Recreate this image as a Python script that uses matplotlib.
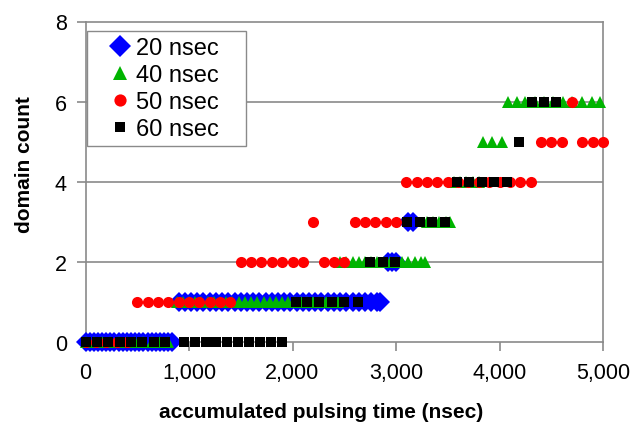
import matplotlib
matplotlib.use('Agg')
import matplotlib.pyplot as plt
from matplotlib.ticker import FuncFormatter

plt.rcParams['font.family'] = ['Liberation Sans', 'DejaVu Sans']

# 20 nsec pulses (blue diamonds)
x20 = [0, 40, 80, 120, 160, 200, 240, 280, 320, 360, 400, 440, 480, 520, 560, 600, 640, 680, 720, 760, 800, 840,
       900, 960, 1020, 1080, 1140, 1200, 1260, 1320, 1380, 1440, 1500, 1560, 1620, 1680, 1740, 1800, 1860,
       1920, 1980, 2040, 2100, 2160, 2220, 2280, 2340, 2400, 2460, 2520, 2580, 2640, 2700, 2760, 2820, 2850,
       2920, 2960, 3000,
       3120, 3160]
y20 = [0] * 22 + [1] * 34 + [2] * 3 + [3] * 2

# 40 nsec pulses (green triangles)
x40 = [0, 80, 160, 240, 320, 400, 480, 560, 640, 720, 800,
       880, 940, 1000, 1060, 1120, 1180, 1240, 1300, 1360, 1420, 1480, 1540, 1600, 1660, 1720, 1780,
       1840, 1900, 1960, 2020, 2080, 2140, 2200, 2260, 2320, 2380, 2440,
       2460, 2520, 2580, 2640, 2700, 2760, 2820, 2880, 2940, 3000, 3060, 3120, 3180, 3240, 3280,
       3300, 3360, 3420, 3480, 3520,
       3560, 3620, 3680, 3740, 3800,
       3840, 3930, 4020,
       4080, 4170, 4250, 4340, 4430, 4520, 4610, 4700, 4800, 4890, 4970]
y40 = [0] * 11 + [1] * 27 + [2] * 15 + [3] * 5 + [4] * 5 + [5] * 3 + [6] * 11

# 50 nsec pulses (red circles)
x50 = [0, 100, 200, 300, 400,
       500, 600, 700, 800, 900, 1000, 1100, 1200, 1300, 1400,
       1500, 1600, 1700, 1800, 1900, 2000, 2100, 2300, 2400, 2500,
       2200, 2600, 2700, 2800, 2900, 3000,
       3100, 3200, 3300, 3400, 3500, 3600, 3700, 3800, 3900, 4000, 4100, 4200, 4300,
       4400, 4500, 4600, 4800, 4900, 5000,
       4700]
y50 = [0] * 5 + [1] * 10 + [2] * 10 + [3] * 6 + [4] * 13 + [5] * 6 + [6] * 1

# 60 nsec pulses (black squares)
x60 = [0, 110, 220, 330, 440, 550, 660, 770, 950, 1055, 1160, 1265, 1370, 1475, 1580, 1685, 1790, 1895,
       2030, 2140, 2260, 2380, 2500, 2630,
       2750, 2870, 2990,
       3110, 3230, 3350, 3470,
       3590, 3710, 3830, 3950, 4070,
       4190,
       4310, 4430, 4550]
y60 = [0] * 18 + [1] * 6 + [2] * 3 + [3] * 4 + [4] * 5 + [5] * 1 + [6] * 3

fig = plt.figure(figsize=(6.34, 4.31), dpi=100)
ax = fig.add_axes([85.5 / 634, 1 - 343 / 431, 517.5 / 634, 320.5 / 431])

grey = '#8a8a8a'
for yy in [2, 4, 6]:
    ax.axhline(yy, color=grey, lw=1.2, zorder=1)

ax.plot(x20, y20, ls='none', marker='D', ms=10.3, color='#0000ff', mew=0, clip_on=False, zorder=3, label='20 nsec')
ax.plot(x40, y40, ls='none', marker='^', ms=8.8, color='#00b400', mew=0, clip_on=False, zorder=4, label='40 nsec')
ax.plot(x50, y50, ls='none', marker='o', ms=8, color='#ff0000', mew=0, clip_on=False, zorder=5, label='50 nsec')
ax.plot(x60, y60, ls='none', marker='s', ms=7, color='#000000', mew=0, clip_on=False, zorder=6, label='60 nsec')

ax.set_xlim(0, 5000)
ax.set_ylim(0, 8)
ax.set_xticks([0, 1000, 2000, 3000, 4000, 5000])
ax.set_yticks([0, 2, 4, 6, 8])
ax.xaxis.set_major_formatter(FuncFormatter(lambda v, p: '{:,.0f}'.format(v)))

for s in ax.spines.values():
    s.set_color(grey)
    s.set_linewidth(1.2)
    s.set_zorder(2)
ax.tick_params(axis='both', direction='out', length=6.5, width=1.2, color=grey, labelsize=15.5)
ax.tick_params(axis='x', pad=8)
ax.tick_params(axis='y', pad=7)

fig.text(321 / 634, 1 - 413 / 431, 'accumulated pulsing time (nsec)', fontsize=15, fontweight='bold',
         ha='center', va='center')
fig.text(25 / 634, 1 - 165 / 431, 'domain count', fontsize=15, fontweight='bold', rotation=90,
         ha='center', va='center')

leg = ax.legend(loc='upper left', bbox_to_anchor=(87 / 634, 1 - 151 / 431, 159 / 634, 119 / 431),
                bbox_transform=fig.transFigure, mode='expand', borderaxespad=0,
                fontsize=17, numpoints=1, fancybox=False, framealpha=1, markerscale=1.1,
                borderpad=0.25, labelspacing=0.21, handlelength=2.29, handletextpad=-0.47)
leg.get_frame().set_edgecolor(grey)
leg.get_frame().set_linewidth(1.0)

fig.savefig('out.png', dpi=100)
